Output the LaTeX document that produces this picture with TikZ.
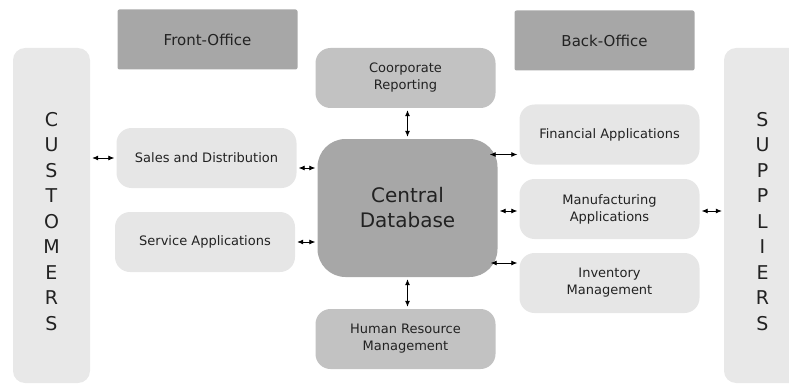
\documentclass[tikz,border=0pt]{standalone}
\usepackage{fontspec}
\setmainfont{DejaVu Sans}
\usetikzlibrary{arrows.meta}
\definecolor{darkgray}{HTML}{A7A7A7}
\definecolor{midgray}{HTML}{C2C2C2}
\definecolor{lightgray}{HTML}{E6E6E6}
\definecolor{sidegray}{HTML}{E8E8E8}
\definecolor{ink}{HTML}{222222}

\begin{document}
\begin{tikzpicture}[x=1pt,y=-1pt]
\tikzstyle{box}=[rectangle,rounded corners=15pt,minimum width=180pt,minimum height=60pt,inner sep=0pt,align=center,text=ink,font=\fontsize{13}{17}\selectfont]
\tikzstyle{office}=[box,fill=darkgray,rounded corners=2pt,font=\fontsize{15}{18}\selectfont]
\tikzstyle{app}=[box,fill=lightgray]
\tikzstyle{core}=[box,fill=midgray]
\tikzstyle{side}=[box,fill=sidegray,minimum width=77pt,minimum height=335pt,rounded corners=12pt,font=\fontsize{19}{25.5}\selectfont]
\tikzstyle{arrow}=[{Latex[length=6pt,width=5pt]}-{Latex[length=6pt,width=5pt]},line width=0.8pt,shorten <=2pt,shorten >=2pt];
\clip (0,0) rectangle (789,385);
\node (1) [office] at (207.5,39.5) {Front-Office};
\node (2) [office] at (604.5,40.5) {Back-Office};
\node (3) [side] at (51.5,215.5) {\rule{0pt}{26pt}C\\U\\S\\T\\O\\M\\E\\R\\S};
\node (4) [side] at (762.5,215.5) {\rule{0pt}{26pt}S\\U\\P\\P\\L\\I\\E\\R\\S};
\node (5) [core] at (405.5,78) {Coorporate\\Reporting};
\node (6) [app] at (206.5,158) {Sales and Distribution};
\node (7) [app] at (205,242) {Service Applications};
\node (8) [box,fill=darkgray,minimum height=138pt,rounded corners=28pt,font=\fontsize{20}{25}\selectfont] at (407.5,208) {Central\\Database};
\node (9) [core] at (405.5,339) {Human Resource\\Management};
\node (10) [app] at (609.5,134.5) {Financial Applications};
\node (11) [app] at (609.5,209) {Manufacturing\\Applications};
\node (12) [app] at (609.5,283) {Inventory\\Management};
\draw [arrow] (3.east |- 6.west) -- (6.west);
\draw [arrow] ([yshift=-10pt]6.east) -- ([yshift=-10pt]6.east -| 8.west);
\draw [arrow] (7.east) -- (7.east -| 8.west);
\draw [arrow] (8.north) -- (8.north |- 5.south);
\draw [arrow] (8.south) -- (8.south |- 9.north);
\draw [arrow,shorten <=-8pt] ([yshift=-20pt]10.west -| 8.east) -- ([yshift=-20pt]10.west);
\draw [arrow] ([yshift=-2pt]11.west -| 8.east) -- ([yshift=-2pt]11.west);
\draw [arrow,shorten <=-7pt] ([yshift=20pt]12.west -| 8.east) -- ([yshift=20pt]12.west);
\draw [arrow] ([yshift=-2pt]11.east) -- ([yshift=-2pt]11.east -| 4.west);
\end{tikzpicture}
\end{document}
